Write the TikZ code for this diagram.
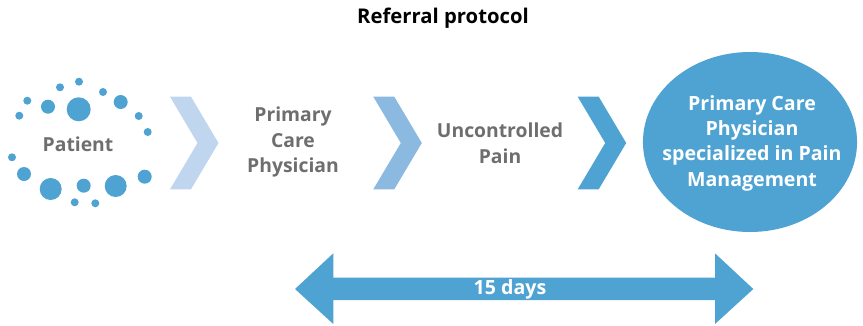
\documentclass[tikz,border=0pt]{standalone}
\usepackage{fontspec}
\setmainfont{Open Sans}
\usepackage{xcolor}
\usepackage{tikz}

\definecolor{dotblue}{HTML}{4FA3D3}
\definecolor{chevlight}{HTML}{BFD6EE}
\definecolor{chevmid}{HTML}{8CB9E0}
\definecolor{textgrey}{HTML}{6E6E6E}

\begin{document}
\begin{tikzpicture}[x=0.75pt,y=-0.75pt,
  steplabel/.style={font=\bfseries\fontsize{14.5}{19.3}\selectfont, text=textgrey, align=center},
  whitelabel/.style={font=\bfseries\fontsize{14.7}{19}\selectfont, text=white, align=center}]

\useasboundingbox (0,0) rectangle (863,325);

\node[font=\bfseries\fontsize{15.2}{18}\selectfont] (title) at (443,18) {Referral protocol};

\foreach \x/\y/\r in {79/81.7/4, 60/87.3/4, 27.3/100.7/4, 19.3/115.7/4, 48/106.7/7,
  78.7/109.3/12, 103/92/4, 120.7/102/7, 138.7/116/4, 147.7/132/4, 12/157.3/4,
  24/174/7, 50.7/189/11, 83.7/185.7/7, 74.7/202.3/4, 95.3/203.3/4, 115.7/186/11,
  144.7/176.7/7} {
  \fill[dotblue] (\x,\y) circle (\r*0.75pt);
}

\foreach \cx/\col in {170/chevlight, 373.3/chevmid, 577.7/dotblue} {
  \fill[\col] (\cx,96.7) -- ++(21,0) -- ++(27.5,46.3) -- ++(-27.5,46.3)
    -- ++(-21,0) -- ++(27.5,-46.3) -- cycle;
}

\node[steplabel] (patient) at (78,144) {Patient};
\node[steplabel] (pcp) at (293,142) {Primary\\Care\\Physician};
\node[steplabel] (pain) at (500,143) {Uncontrolled\\Pain};

\fill[dotblue] (750,142) ellipse [x radius=80.3pt, y radius=67.5pt];
\node[whitelabel] (specialist) at (752,143)
  {Primary Care\\Physician\\specialized in Pain\\Management};

\fill[dotblue] (295,289) -- (333.3,253.3) -- (333.3,277.7) -- (715,277.7) -- (715,253.3)
  -- (753.3,289) -- (715,324) -- (715,300) -- (333.3,300) -- (333.3,324) -- cycle;
\node[whitelabel] (days) at (510,289) {15 days};

\end{tikzpicture}
\end{document}
